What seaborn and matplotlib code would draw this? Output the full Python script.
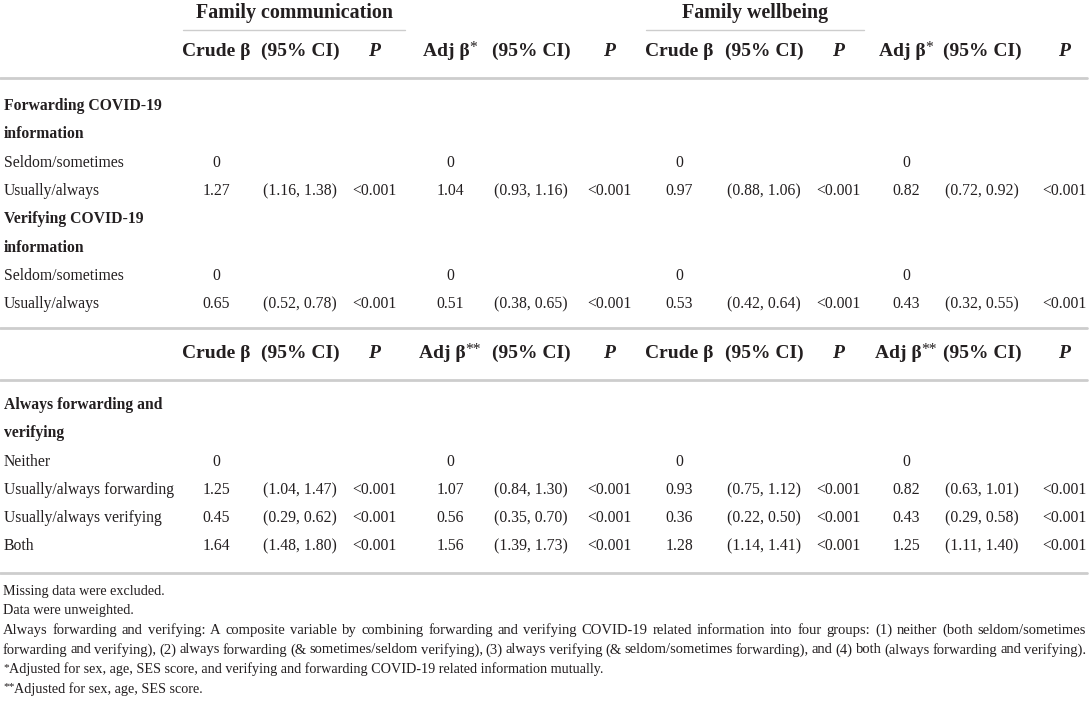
import numpy as np
import pandas as pd
import seaborn as sns
import matplotlib.pyplot as plt

# table content
groups = ["Family communication", "Family wellbeing"]
col_heads_1 = ["Crude β", "(95% CI)", "P", "Adj β*", "(95% CI)", "P",
               "Crude β", "(95% CI)", "P", "Adj β*", "(95% CI)", "P"]
col_heads_2 = ["Crude β", "(95% CI)", "P", "Adj β**", "(95% CI)", "P",
               "Crude β", "(95% CI)", "P", "Adj β**", "(95% CI)", "P"]

sections_1 = [["Forwarding COVID-19", "information"], ["Verifying COVID-19", "information"]]
levels_1 = [["Seldom/sometimes", "Usually/always"], ["Seldom/sometimes", "Usually/always"]]
sections_2 = [["Always forwarding and", "verifying"]]
levels_2 = [["Neither", "Usually/always forwarding", "Usually/always verifying", "Both"]]

nan = np.nan
# order: forwarding (2), verifying (2), combined (4)
comm_crude = [0, 1.27, 0, 0.65, 0, 1.25, 0.45, 1.64]
comm_crude_lo = [nan, 1.16, nan, 0.52, nan, 1.04, 0.29, 1.48]
comm_crude_hi = [nan, 1.38, nan, 0.78, nan, 1.47, 0.62, 1.80]
comm_adj = [0, 1.04, 0, 0.51, 0, 1.07, 0.56, 1.56]
comm_adj_lo = [nan, 0.93, nan, 0.38, nan, 0.84, 0.35, 1.39]
comm_adj_hi = [nan, 1.16, nan, 0.65, nan, 1.30, 0.70, 1.73]
well_crude = [0, 0.97, 0, 0.53, 0, 0.93, 0.36, 1.28]
well_crude_lo = [nan, 0.88, nan, 0.42, nan, 0.75, 0.22, 1.14]
well_crude_hi = [nan, 1.06, nan, 0.64, nan, 1.12, 0.50, 1.41]
well_adj = [0, 0.82, 0, 0.43, 0, 0.82, 0.43, 1.25]
well_adj_lo = [nan, 0.72, nan, 0.32, nan, 0.63, 0.29, 1.11]
well_adj_hi = [nan, 0.92, nan, 0.55, nan, 1.01, 0.58, 1.40]
p_comm_crude = ["", "<0.001", "", "<0.001", "", "<0.001", "<0.001", "<0.001"]
p_comm_adj = ["", "<0.001", "", "<0.001", "", "<0.001", "<0.001", "<0.001"]
p_well_crude = ["", "<0.001", "", "<0.001", "", "<0.001", "<0.001", "<0.001"]
p_well_adj = ["", "<0.001", "", "<0.001", "", "<0.001", "<0.001", "<0.001"]

footnotes = [
    "Missing data were excluded.",
    "Data were unweighted.",
    "Always forwarding and verifying: A composite variable by combining forwarding and verifying COVID-19 related information into four groups: (1) neither (both seldom/sometimes",
    "forwarding and verifying), (2) always forwarding (& sometimes/seldom verifying), (3) always verifying (& seldom/sometimes forwarding), and (4) both (always forwarding and verifying).",
    "*Adjusted for sex, age, SES score, and verifying and forwarding COVID-19 related information mutually.",
    "**Adjusted for sex, age, SES score.",
]
justify = [False, False, True, True, False, False]


def fmt_b(v):
    if np.isnan(v):
        return ""
    return "0" if v == 0 else f"{v:.2f}"


def fmt_ci(lo, hi):
    return "" if np.isnan(lo) else f"({lo:.2f}, {hi:.2f})"


cells = pd.DataFrame({
    "c1": [fmt_b(v) for v in comm_crude],
    "c2": [fmt_ci(a, b) for a, b in zip(comm_crude_lo, comm_crude_hi)],
    "c3": p_comm_crude,
    "c4": [fmt_b(v) for v in comm_adj],
    "c5": [fmt_ci(a, b) for a, b in zip(comm_adj_lo, comm_adj_hi)],
    "c6": p_comm_adj,
    "c7": [fmt_b(v) for v in well_crude],
    "c8": [fmt_ci(a, b) for a, b in zip(well_crude_lo, well_crude_hi)],
    "c9": p_well_crude,
    "c10": [fmt_b(v) for v in well_adj],
    "c11": [fmt_ci(a, b) for a, b in zip(well_adj_lo, well_adj_hi)],
    "c12": p_well_adj,
})

sns.set_theme(style="white")
plt.rcParams["font.family"] = ["Liberation Serif", "DejaVu Serif"]
ink = "#231f20"
rule = "#cdcdcd"

fig = plt.figure(figsize=(10.89, 7.01), dpi=100)
ax = fig.add_axes([0, 0, 1, 1])
ax.set_xlim(0, 1089)
ax.set_ylim(701, 0)
ax.axis("off")
renderer = fig.canvas.get_renderer()

col_x = [216, 300, 374, 450, 531, 609, 679, 764, 838, 906, 982, 1064]
head_fs = 14.0
body_fs = 11.3
note_fs = 10.2
pitch = 28.3


def text_width(s, **kw):
    t = ax.text(0, 0, s, **kw)
    w = t.get_window_extent(renderer).width
    t.remove()
    return w


def starred(x, y, s, fs, ha="center", **kw):
    # leading / trailing asterisks drawn small and raised
    base = s.strip("*")
    n = len(s) - len(base)
    if n == 0:
        ax.text(x, y, s, ha=ha, va="center", fontsize=fs, color=ink, **kw)
        return
    sfs = fs * 0.8
    wb = text_width(base, fontsize=fs, **kw)
    ws = text_width("*" * n, fontsize=sfs)
    x0 = x - (wb + ws) / 2 if ha == "center" else x
    if s.startswith("*"):
        ax.text(x0, y - fs * 0.22, "*" * n, ha="left", va="center", fontsize=sfs, color=ink)
        ax.text(x0 + ws, y, base, ha="left", va="center", fontsize=fs, color=ink, **kw)
    else:
        ax.text(x0, y, base, ha="left", va="center", fontsize=fs, color=ink, **kw)
        ax.text(x0 + wb, y - fs * 0.22, "*" * n, ha="left", va="center", fontsize=sfs, color=ink)


# group headers with underlines
grp_x = [(183, 405), (646, 864)]
for name, (x0, x1) in zip(groups, grp_x):
    ax.text((x0 + x1) / 2, 13, name, ha="center", va="center", fontsize=head_fs + 0.4,
            fontweight="bold", color=ink)
    ax.plot([x0, x1], [30, 30], color=rule, lw=1.0)


def col_header(labels, y):
    for x, lab in zip(col_x, labels):
        starred(x, y, lab, head_fs, fontweight="bold",
                style="italic" if lab == "P" else "normal")


def block(sections, levels, y0, start):
    y = y0
    k = start
    for sec, levs in zip(sections, levels):
        for line in sec:
            ax.text(4, y, line, ha="left", va="center", fontsize=body_fs,
                    fontweight="bold", color=ink)
            y += pitch
        for lev in levs:
            ax.text(4, y, lev, ha="left", va="center", fontsize=body_fs, color=ink)
            for x, col in zip(col_x, cells.columns):
                ax.text(x, y, cells.loc[k, col], ha="center", va="center",
                        fontsize=body_fs, color=ink)
            k += 1
            y += pitch
    return k


col_header(col_heads_1, 51)
ax.plot([0, 1087], [78, 78], color=rule, lw=2)
k = block(sections_1, levels_1, 106, 0)
ax.plot([0, 1087], [328, 328], color=rule, lw=2)
col_header(col_heads_2, 353)
ax.plot([0, 1087], [380, 380], color=rule, lw=2)
block(sections_2, levels_2, 405, k)
ax.plot([0, 1087], [573, 573], color=rule, lw=2)

# footnotes; the justified paragraph gets a size that fills the line with tight spaces
x_left, x_right = 3, 1086
just_lines = [l for l, j in zip(footnotes, justify) if j]
natural = max(sum(text_width(w, fontsize=note_fs) for w in l.split(" "))
              + 2.5 * (len(l.split(" ")) - 1) for l in just_lines)
just_fs = min(note_fs * (x_right - x_left) / natural, note_fs * 1.08)

for i, (line, just) in enumerate(zip(footnotes, justify)):
    y = 591 + 19.6 * i
    if not just:
        starred(x_left, y, line, note_fs, ha="left")
        continue
    words = line.split(" ")
    widths = [text_width(w, fontsize=just_fs) for w in words]
    gap = (x_right - x_left - sum(widths)) / (len(words) - 1)
    x = x_left
    for w, wd in zip(words, widths):
        ax.text(x, y, w, ha="left", va="center", fontsize=just_fs, color=ink)
        x += wd + gap

fig.savefig("out.png", dpi=100)
